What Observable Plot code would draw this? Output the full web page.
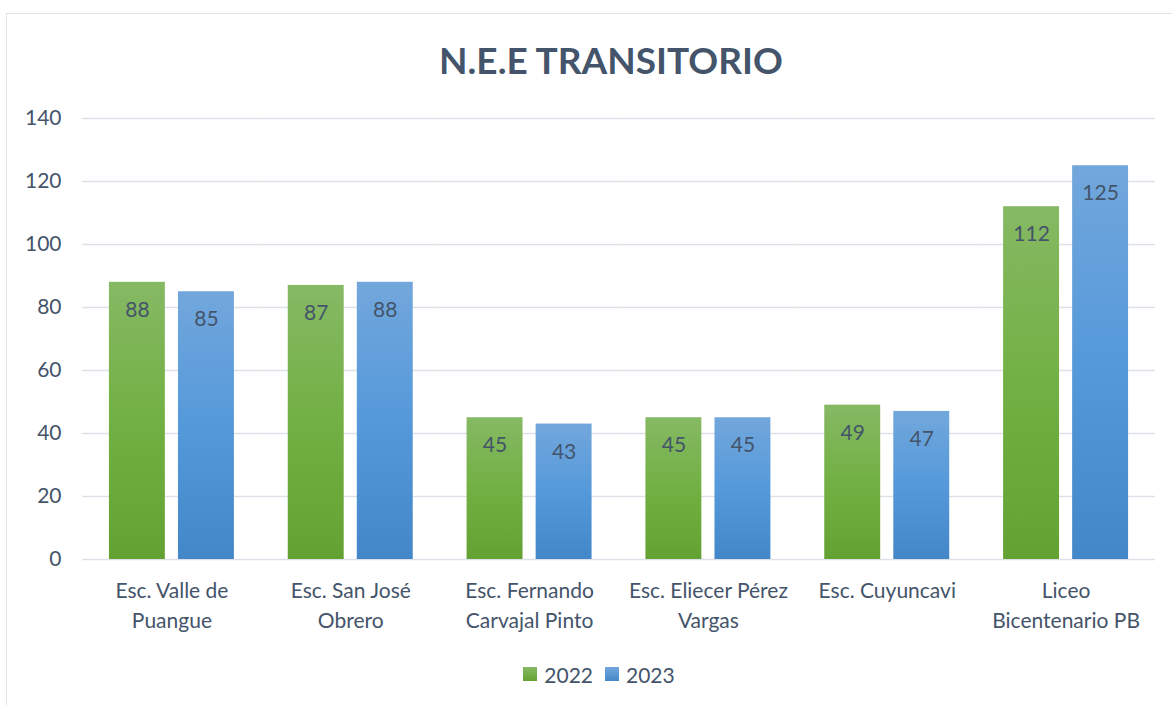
<!DOCTYPE html>
<html>
<head>
<meta charset="utf-8">
<script src="https://cdn.jsdelivr.net/npm/d3@7"></script>
<script src="https://cdn.jsdelivr.net/npm/@observablehq/plot@0.6"></script>
<style>
  html, body { margin: 0; padding: 0; background: #fff; }
  body { width: 1172px; height: 705px; position: relative; overflow: hidden; font-family: Lato, "Open Sans", sans-serif; }
  #frame { position: absolute; left: 6px; top: 13px; width: 1180px; height: 720px; border: 1.5px solid #dde3ea; box-sizing: border-box; }
  #title { position: absolute; left: 0; width: 1222px; top: 37px; text-align: center; font-size: 37px; font-weight: bold; color: #44546a; }
  #chart { position: absolute; left: 0; top: 0; }
  #legend { position: absolute; top: 660px; left: 0; width: 1198px; text-align: center; font-size: 21px; color: #44546a; }
  #legend span.item { display: inline-flex; align-items: center; margin: 0 6px; }
  #legend span.sw { display: inline-block; width: 14px; height: 14px; margin-right: 7px; }
</style>
</head>
<body>
<div id="frame"></div>
<div id="title">N.E.E TRANSITORIO</div>
<div id="chart"></div>
<div id="legend"></div>
<script>
const categories = [
  "Esc. Valle de\nPuangue",
  "Esc. San José\nObrero",
  "Esc. Fernando\nCarvajal Pinto",
  "Esc. Eliecer Pérez\nVargas",
  "Esc. Cuyuncavi",
  "Liceo\nBicentenario PB"
];
const series = ["2022", "2023"];
const values2022 = [88, 87, 45, 45, 49, 112];
const values2023 = [85, 88, 43, 45, 47, 125];
const yTicks = [0, 20, 40, 60, 80, 100, 120, 140];

const data = [];
categories.forEach((c, i) => {
  data.push({category: c, year: "2022", value: values2022[i]});
  data.push({category: c, year: "2023", value: values2023[i]});
});

const textColor = "#44546a";

const plot = Plot.plot({
  width: 1172,
  height: 640,
  marginLeft: 82,
  marginRight: 17,
  marginTop: 118,
  marginBottom: 81,
  style: {fontFamily: "Lato, 'Open Sans', sans-serif", background: "transparent", overflow: "visible"},
  fx: {domain: categories, padding: 0, round: false, label: null},
  x: {domain: series, paddingInner: 0.19, paddingOuter: 0.39, round: false, axis: null},
  y: {domain: [0, 140], axis: null},
  marks: [
    Plot.ruleY(yTicks, {stroke: "#dde1e7", strokeWidth: 1.5}),
    Plot.barY(data.filter(d => d.year === "2022"), {fx: "category", x: "year", y: "value", fill: "url(#g2022)"}),
    Plot.barY(data.filter(d => d.year === "2023"), {fx: "category", x: "year", y: "value", fill: "url(#g2023)"}),
    Plot.text(data, {fx: "category", x: "year", y: "value", text: d => String(d.value), dy: 28, fontSize: 21, fill: textColor}),
    Plot.axisY({ticks: yTicks, tickSize: 0, tickPadding: 21, fontSize: 21, color: textColor, label: null}),
    Plot.axisFx({anchor: "bottom", tickSize: 0, tickPadding: 17, fontSize: 21, color: textColor, label: null, lineHeight: 1.43})
  ]
});

const ns = "http://www.w3.org/2000/svg";
const defs = document.createElementNS(ns, "defs");
function grad(id, top, mid, bottom) {
  const g = document.createElementNS(ns, "linearGradient");
  g.setAttribute("id", id);
  g.setAttribute("x1", "0"); g.setAttribute("y1", "0");
  g.setAttribute("x2", "0"); g.setAttribute("y2", "1");
  [[0, top], [0.5, mid], [1, bottom]].forEach(([o, c]) => {
    const s = document.createElementNS(ns, "stop");
    s.setAttribute("offset", o);
    s.setAttribute("stop-color", c);
    g.appendChild(s);
  });
  defs.appendChild(g);
}
grad("g2022", "#86b964", "#72b043", "#63a232");
grad("g2023", "#72a7dc", "#5599da", "#4487c8");
plot.insertBefore(defs, plot.firstChild);
document.getElementById("chart").appendChild(plot);

const legend = document.getElementById("legend");
const swatchBg = {"2022": "linear-gradient(#86b964, #63a232)", "2023": "linear-gradient(#72a7dc, #4487c8)"};
series.forEach(s => {
  const item = document.createElement("span");
  item.className = "item";
  const sw = document.createElement("span");
  sw.className = "sw";
  sw.style.background = swatchBg[s];
  item.appendChild(sw);
  item.appendChild(document.createTextNode(s));
  legend.appendChild(item);
});
</script>
</body>
</html>
